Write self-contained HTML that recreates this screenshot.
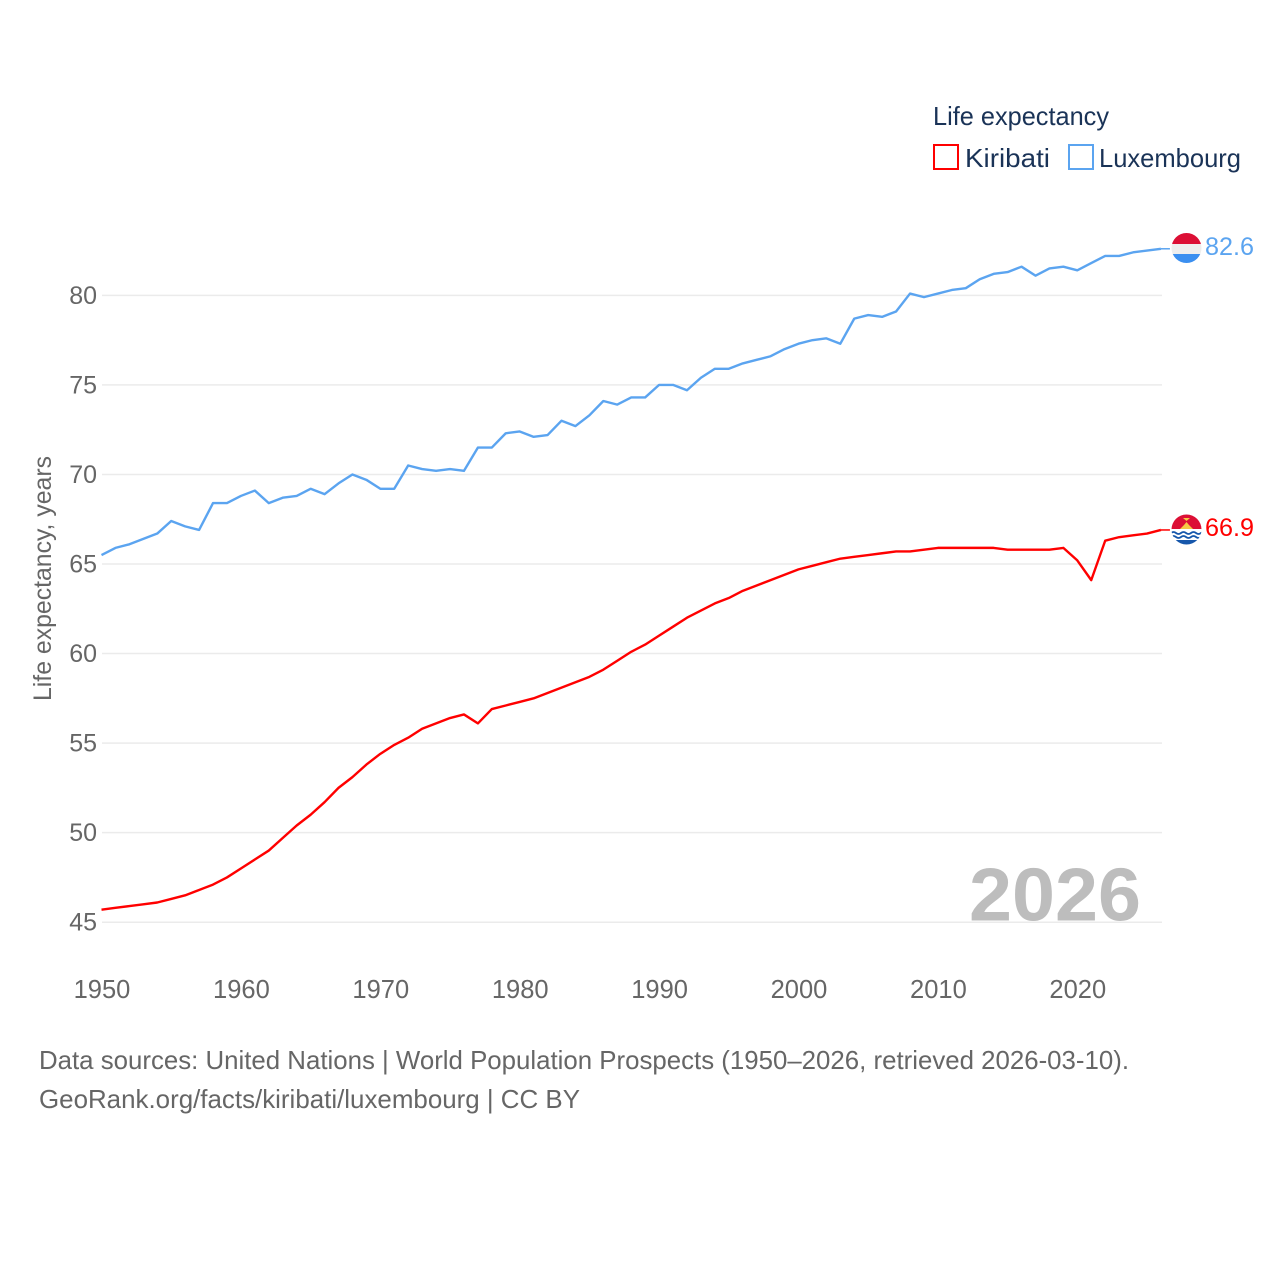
<!DOCTYPE html>
<html lang="en">
<head>
<meta charset="utf-8">
<title>Life expectancy: Kiribati and Luxembourg</title>
<style>
html,body{margin:0;padding:0;background:#fff;}
svg{display:block;font-family:"Liberation Sans",sans-serif;}
</style>
</head>
<body>
<svg id="chart" xmlns="http://www.w3.org/2000/svg" width="1280" height="1280" viewBox="0 0 1280 1280">
<defs>
<clipPath id="clip-lu"><circle cx="1186.5" cy="248" r="15"/></clipPath>
<clipPath id="clip-ki"><circle cx="1186.5" cy="529.5" r="15"/></clipPath>
</defs>
<rect x="0" y="0" width="1280" height="1280" fill="#fff"/>
<g id="grid"></g>
<g id="yticks"></g>
<g id="xticks"></g>
<text transform="translate(51,701) rotate(-90)" font-size="25" fill="#666" textLength="245" lengthAdjust="spacingAndGlyphs">Life expectancy, years</text>
<text id="year-label" x="969" y="920.5" font-size="75" font-weight="700" fill="#bdbdbd" textLength="172" lengthAdjust="spacingAndGlyphs">2026</text>
<g id="series"></g>

<g>
<text x="933" y="125" font-size="26" fill="#1a3357" textLength="176" lengthAdjust="spacingAndGlyphs">Life expectancy</text>
<rect x="934" y="145" width="24" height="24" fill="#fff" stroke="#ff0000" stroke-width="2"/>
<text x="965" y="167" font-size="26" fill="#1a3357" textLength="85" lengthAdjust="spacingAndGlyphs">Kiribati</text>
<rect x="1069" y="145" width="24" height="24" fill="#fff" stroke="#5ba4f0" stroke-width="2"/>
<text x="1099" y="167" font-size="26" fill="#1a3357" textLength="142" lengthAdjust="spacingAndGlyphs">Luxembourg</text>
</g>

<g clip-path="url(#clip-lu)">
<rect x="1171" y="233" width="31" height="11" fill="#dc0f35"/>
<rect x="1171" y="244" width="31" height="10" fill="#eeeeee"/>
<rect x="1171" y="254" width="31" height="10" fill="#3b8ff0"/>
</g>
<g clip-path="url(#clip-ki)">
<rect x="1171" y="514" width="31" height="16" fill="#dc0f35"/>
<polygon points="1183,518 1190,518 1186.5,521" fill="#f6c945"/>
<polygon points="1186.5,522 1189,525 1193,529 1180,529 1184,525" fill="#f6c945"/>
<rect x="1171" y="529" width="31" height="12" fill="#ffffff"/>
<rect x="1171" y="540" width="31" height="6" fill="#1657ab"/>
<path d="M1171 533 q2.5 -2 5 0 t5 0 t5 0 t5 0 t5 0 t5 0 t5 0" fill="none" stroke="#1657ab" stroke-width="1.8"/>
<path d="M1171 537 q2.5 -2 5 0 t5 0 t5 0 t5 0 t5 0 t5 0 t5 0" fill="none" stroke="#1657ab" stroke-width="1.8"/>
</g>
<text x="1205" y="255" font-size="25" fill="#5ba4f0" textLength="49" lengthAdjust="spacingAndGlyphs">82.6</text>
<text x="1205" y="536" font-size="25" fill="#ff0000" textLength="49" lengthAdjust="spacingAndGlyphs">66.9</text>

<text x="39" y="1069" font-size="26" fill="#666" textLength="1090" lengthAdjust="spacingAndGlyphs">Data sources: United Nations | World Population Prospects (1950–2026, retrieved 2026-03-10).</text>
<text x="39" y="1108" font-size="26" fill="#666" textLength="541" lengthAdjust="spacingAndGlyphs">GeoRank.org/facts/kiribati/luxembourg | CC BY</text>
</svg>
<script>
var startYear = 1950;
var yTicks = [45, 50, 55, 60, 65, 70, 75, 80];
var xTicks = [1950, 1960, 1970, 1980, 1990, 2000, 2010, 2020];
var luxembourg = [65.5,65.9,66.1,66.4,66.7,67.4,67.1,66.9,68.4,68.4,68.8,69.1,68.4,68.7,68.8,69.2,68.9,69.5,70.0,69.7,69.2,69.2,70.5,70.3,70.2,70.3,70.2,71.5,71.5,72.3,72.4,72.1,72.2,73.0,72.7,73.3,74.1,73.9,74.3,74.3,75.0,75.0,74.7,75.4,75.9,75.9,76.2,76.4,76.6,77.0,77.3,77.5,77.6,77.3,78.7,78.9,78.8,79.1,80.1,79.9,80.1,80.3,80.4,80.9,81.2,81.3,81.6,81.1,81.5,81.6,81.4,81.8,82.2,82.2,82.4,82.5,82.6];
var kiribati = [45.7,45.8,45.9,46.0,46.1,46.3,46.5,46.8,47.1,47.5,48.0,48.5,49.0,49.7,50.4,51.0,51.7,52.5,53.1,53.8,54.4,54.9,55.3,55.8,56.1,56.4,56.6,56.1,56.9,57.1,57.3,57.5,57.8,58.1,58.4,58.7,59.1,59.6,60.1,60.5,61.0,61.5,62.0,62.4,62.8,63.1,63.5,63.8,64.1,64.4,64.7,64.9,65.1,65.3,65.4,65.5,65.6,65.7,65.7,65.8,65.9,65.9,65.9,65.9,65.9,65.8,65.8,65.8,65.8,65.9,65.2,64.1,66.3,66.5,66.6,66.7,66.9];

var NS = 'http://www.w3.org/2000/svg';
function xScale(year) { return 101.5 + (year - 1950) * 13.94; }
function yScale(v) { return 922.2 - (v - 45) * 17.91; }

var grid = document.getElementById('grid');
var yG = document.getElementById('yticks');
var xG = document.getElementById('xticks');
var seriesG = document.getElementById('series');

yTicks.forEach(function (t) {
  var line = document.createElementNS(NS, 'line');
  line.setAttribute('x1', 102);
  line.setAttribute('x2', 1162);
  line.setAttribute('y1', yScale(t));
  line.setAttribute('y2', yScale(t));
  line.setAttribute('stroke', '#ebebeb');
  line.setAttribute('stroke-width', 1.5);
  
  
  grid.appendChild(line);

  var label = document.createElementNS(NS, 'text');
  label.setAttribute('x', 97);
  label.setAttribute('y', yScale(t) + 8.5);
  label.setAttribute('text-anchor', 'end');
  label.setAttribute('font-size', 25);
  label.setAttribute('fill', '#666');
  label.textContent = t;
  
  
  yG.appendChild(label);
});

xTicks.forEach(function (t) {
  var label = document.createElementNS(NS, 'text');
  label.setAttribute('x', xScale(t) + 0.5);
  label.setAttribute('y', 998);
  label.setAttribute('text-anchor', 'middle');
  label.setAttribute('font-size', 25.5);
  label.setAttribute('fill', '#666');
  label.textContent = t;
  
  
  xG.appendChild(label);
});

function drawSeries(values, color, name) {
  var pts = values.map(function (v, i) {
    return xScale(startYear + i).toFixed(2) + ',' + yScale(v).toFixed(2);
  });
  var line = document.createElementNS(NS, 'polyline');
  line.setAttribute('points', pts.join(' '));
  line.setAttribute('fill', 'none');
  line.setAttribute('stroke', color);
  line.setAttribute('stroke-width', 2.4);
  line.setAttribute('stroke-linejoin', 'round');
  
  
  seriesG.appendChild(line);

  var last = values[values.length - 1];
  var lastX = xScale(startYear + values.length - 1);
  var lead = document.createElementNS(NS, 'line');
  lead.setAttribute('x1', lastX);
  lead.setAttribute('x2', lastX + 9);
  lead.setAttribute('y1', yScale(last));
  lead.setAttribute('y2', yScale(last));
  lead.setAttribute('stroke', color);
  lead.setAttribute('stroke-width', 1.5);
  
  
  seriesG.appendChild(lead);
}
drawSeries(luxembourg, '#5ba4f0', 'luxembourg');
drawSeries(kiribati, '#ff0000', 'kiribati');
</script>
</body>
</html>
